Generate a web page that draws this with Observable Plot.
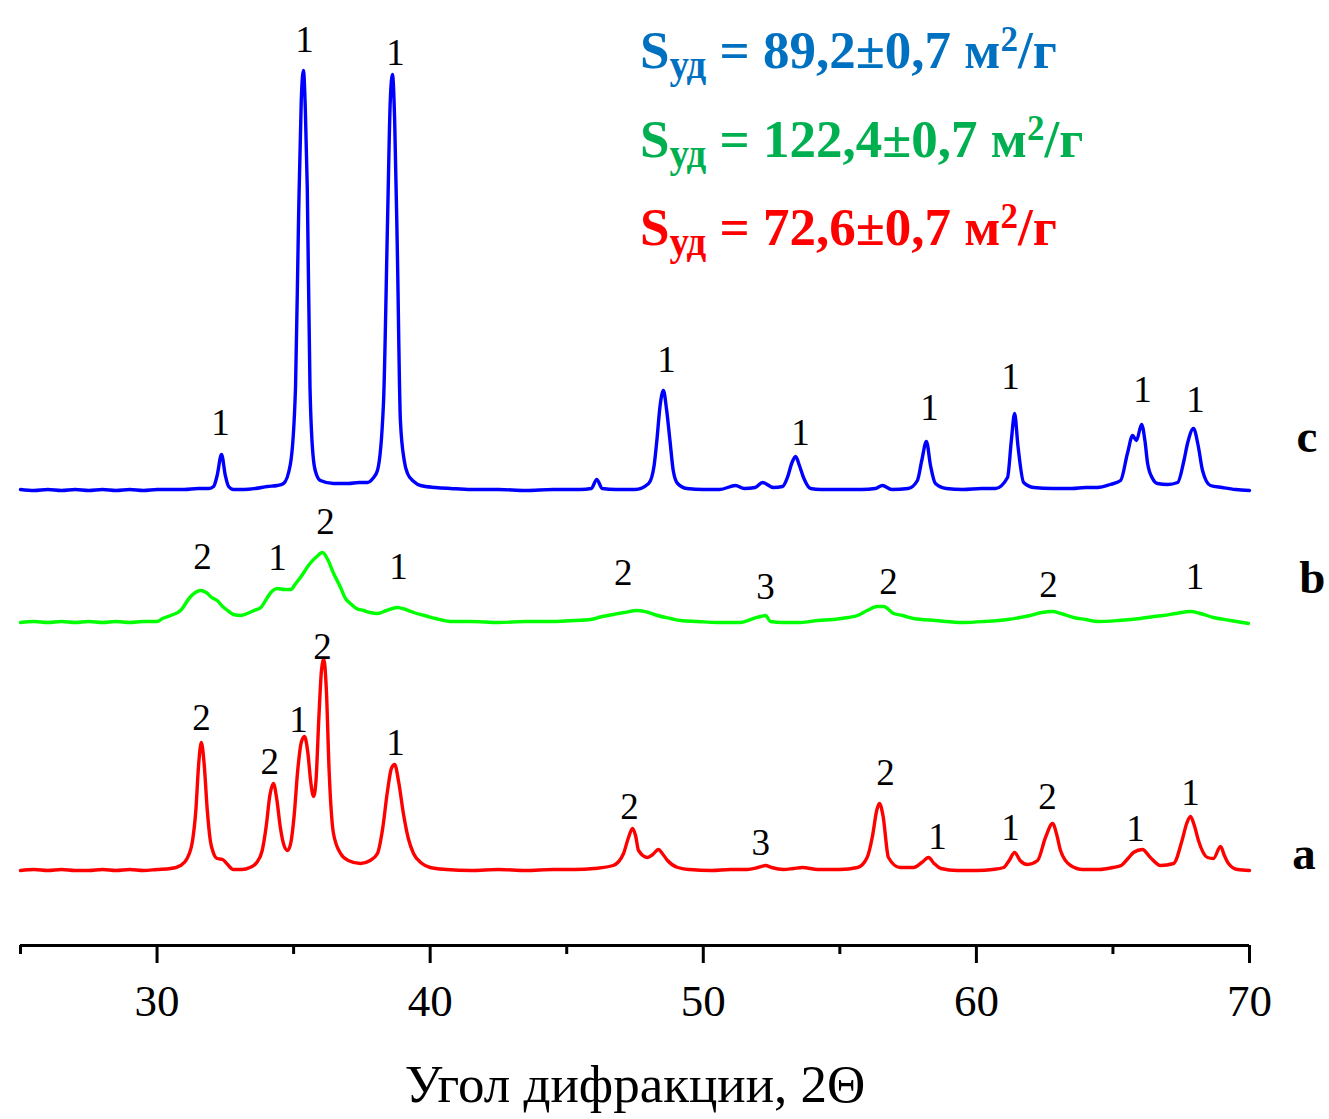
<!DOCTYPE html>
<html>
<head>
<meta charset="utf-8">
<script src="https://cdn.jsdelivr.net/npm/d3@7"></script>
<script src="https://cdn.jsdelivr.net/npm/@observablehq/plot@0.6"></script>
<style>
  body { margin: 0; background: white; }
  #wrap { position: relative; width: 1329px; height: 1119px; }
  .s { position: absolute; left: 640px; font-family: "Liberation Serif", "Times New Roman", serif; font-weight: bold; font-size: 53px; line-height: 53px; white-space: nowrap; }
  .sub { position: relative; top: 10px; font-size: 39px; }
  .sup { position: relative; top: -17px; font-size: 35px; }
</style>
</head>
<body>
<div id="wrap"></div>
<script>
// ---- data (2θ, intensity above each pattern's own baseline, arbitrary units) ----
const seriesC = [[25.0,1],[25.5,0],[26.0,1],[26.5,0],[27.0,1],[27.5,0],[28.0,1],[28.5,0],[29.0,1],[29.5,0],[30.0,1],[30.5,1],[31.0,1],[31.5,2],[31.9,2],[32.07,4],[32.2,15],[32.36,36],[32.5,15],[32.62,4],[32.8,1],[33.2,1],[33.6,2],[34.04,4],[34.4,5],[34.63,7],[34.88,26],[35.07,103],[35.18,270],[35.28,390],[35.36,420],[35.43,380],[35.5,303],[35.6,103],[35.73,30],[35.85,15],[35.98,10],[36.46,7],[37.0,7],[37.4,8],[37.7,8],[37.9,12],[38.07,20],[38.29,87],[38.44,270],[38.54,390],[38.62,416],[38.7,370],[38.8,237],[38.91,70],[39.05,30],[39.17,17],[39.4,9],[39.65,5],[40.2,3],[40.75,2],[41.5,1],[42.5,1],[43.5,0],[44.5,1],[45.5,1],[45.9,2],[46.1,11],[46.3,2],[46.8,1],[47.5,1],[48.0,7],[48.2,25],[48.3,50],[48.42,85],[48.54,100],[48.66,80],[48.78,50],[48.9,20],[49.06,7],[49.4,2],[50.0,1],[50.6,1],[51.18,5],[51.5,2],[51.9,3],[52.17,8],[52.57,3],[52.9,4],[53.08,13],[53.25,28],[53.38,34],[53.52,25],[53.67,13],[53.93,2],[54.3,1],[55.0,1],[55.8,1],[56.3,2],[56.56,5],[56.9,1],[57.5,2],[57.84,10],[58.0,30],[58.17,49],[58.32,25],[58.5,7],[58.9,2],[59.5,1],[60.2,2],[60.7,2],[61.14,13],[61.28,50],[61.4,77],[61.52,45],[61.73,8],[62.1,3],[62.8,2],[63.5,2],[64.0,3],[64.44,3],[64.9,6],[65.28,10],[65.53,37],[65.72,55],[65.86,50],[66.05,66],[66.17,50],[66.27,27],[66.45,12],[66.63,7],[67.0,6],[67.37,8],[67.6,30],[67.73,47],[67.95,62],[68.12,45],[68.28,20],[68.57,5],[69.0,3],[69.5,1],[70.0,0]];

const seriesB = [[25.0,0],[25.5,1],[26.0,0],[26.5,1],[27.0,0],[27.5,1],[28.0,0],[28.5,1],[29.0,0],[29.5,1],[30.0,1],[30.2,4],[30.5,7],[30.86,12],[31.2,25],[31.4,30],[31.59,32],[31.8,30],[32.0,25],[32.2,22],[32.4,16],[32.58,12],[32.8,8],[33.06,7],[33.3,9],[33.55,12],[33.8,15],[34.04,25],[34.2,31],[34.41,34],[34.65,33],[34.9,33],[35.05,38],[35.25,45],[35.6,59],[35.85,66],[36.06,70],[36.25,63],[36.45,50],[36.72,35],[36.9,24],[37.08,19],[37.3,14],[37.56,12],[37.8,10],[38.07,9],[38.4,12],[38.8,15],[39.1,13],[39.4,10],[39.8,7],[40.2,4],[40.74,1],[41.5,1],[42.5,0],[43.5,1],[44.5,1],[45.3,2],[45.87,3],[46.3,6],[46.71,8],[47.1,10],[47.59,12],[48.0,10],[48.32,7],[48.8,4],[49.17,2],[49.8,1],[50.5,0],[51.36,0],[51.84,4],[52.1,6],[52.28,7],[52.46,1],[52.9,0],[53.56,0],[54.2,2],[54.77,3],[55.3,5],[55.65,7],[56.0,12],[56.38,16],[56.6,16],[56.97,9],[57.3,7],[57.7,4],[58.5,2],[59.53,0],[60.3,1],[61.14,3],[61.6,5],[61.98,7],[62.4,10],[62.79,11],[63.1,9],[63.56,5],[64.0,3],[64.44,1],[65.2,2],[66.0,4],[66.5,6],[66.85,7],[67.3,9],[67.84,11],[68.2,9],[68.68,5],[69.3,2],[69.96,-1]];

const seriesA = [[25.0,0],[25.5,1],[26.0,0],[26.5,1],[27.0,0],[27.5,0],[28.0,1],[28.5,0],[29.0,1],[29.5,0],[30.0,1],[30.5,2],[30.86,5],[31.1,12],[31.3,30],[31.42,60],[31.52,105],[31.62,128],[31.72,108],[31.84,60],[31.95,30],[32.07,17],[32.2,12],[32.4,11],[32.55,7],[32.8,1],[33.1,1],[33.4,3],[33.65,8],[33.85,20],[34.0,45],[34.13,75],[34.26,87],[34.38,72],[34.52,42],[34.65,25],[34.78,20],[34.9,28],[35.02,55],[35.15,100],[35.28,128],[35.4,134],[35.52,118],[35.63,88],[35.73,74],[35.82,90],[35.92,150],[36.02,200],[36.1,212],[36.2,180],[36.3,100],[36.46,37],[36.72,17],[37.0,10],[37.45,7],[37.8,10],[38.07,17],[38.25,40],[38.44,80],[38.58,102],[38.7,106],[38.85,88],[39.02,57],[39.2,32],[39.39,17],[39.7,7],[40.0,3],[40.6,1],[41.5,0],[42.5,1],[43.5,0],[44.5,1],[45.3,1],[46.0,2],[46.7,5],[47.08,17],[47.25,32],[47.41,42],[47.52,35],[47.63,20],[47.96,13],[48.15,16],[48.36,21],[48.5,17],[48.69,10],[49.06,3],[49.5,1],[50.3,0],[51.0,1],[51.6,1],[52.0,3],[52.28,5],[52.5,3],[52.94,1],[53.3,2],[53.63,3],[54.2,1],[55.0,1],[55.65,3],[56.0,13],[56.2,35],[56.35,60],[56.45,67],[56.58,55],[56.78,13],[57.2,3],[57.7,3],[58.0,8],[58.25,13],[58.45,7],[58.7,2],[59.3,0],[60.0,0],[60.6,1],[61.0,3],[61.2,10],[61.4,18],[61.6,10],[61.87,6],[62.24,10],[62.53,33],[62.79,47],[62.95,35],[63.08,20],[63.45,5],[63.9,1],[64.5,1],[65.0,3],[65.3,5],[65.55,12],[65.75,18],[66.08,21],[66.37,13],[66.74,5],[67.22,7],[67.53,30],[67.7,47],[67.84,54],[67.98,45],[68.13,30],[68.46,13],[68.68,12],[68.94,24],[69.08,15],[69.23,7],[69.56,1],[70.0,0]];

// phase labels: [2θ, phase number, height above the pattern's baseline]
const labelsC = [[32.32,"1",67],[35.4,"1",450],[38.73,"1",437],[48.65,"1",130],[53.56,"1",57],[58.28,"1",82],[61.25,"1",113],[66.08,"1",100],[68.02,"1",90]];
const labelsB = [[31.66,"2",65],[34.41,"1",64],[36.17,"2",100],[38.84,"1",55],[47.07,"2",49],[52.28,"3",35],[56.78,"2",40],[62.64,"2",37],[68.0,"1",45]];
const labelsA = [[31.63,"2",152],[34.13,"2",108],[35.18,"1",150],[36.06,"2",223],[38.73,"1",127],[47.3,"2",63],[52.1,"3",27],[56.67,"2",97],[58.58,"1",33],[61.25,"1",42],[62.6,"2",73],[65.83,"1",41],[67.84,"1",77]];

const seriesNames = ["a", "b", "c"];
const seriesOffsets = [0, 248, 380];
const seriesColors = ["#ff0000", "#00ff00", "#0000ff"];
const xTicks = [30, 40, 50, 60, 70];
const xMinorTicks = [25, 35, 45, 55, 65];
const xLabel = "Угол дифракции, 2Θ";
const areaValues = ["89,2±0,7", "122,4±0,7", "72,6±0,7"];
const areaColors = ["#0070c0", "#00b050", "#ff0000"];

// ---- build ----
const allSeries = [seriesA, seriesB, seriesC];
const allLabels = [labelsA, labelsB, labelsC];
const lineData = allSeries.flatMap((s, i) => s.map(([x, v]) => ({x, y: v + seriesOffsets[i], s: seriesNames[i]})));
const labelData = allLabels.flatMap((s, i) => s.map(([x, t, v]) => ({x, y: v + seriesOffsets[i], t})));
const letterLift = [17, 45, 54];
const letterX = [72.0, 72.3, 72.1];
const letterData = seriesNames.map((n, i) => ({x: letterX[i], y: seriesOffsets[i] + letterLift[i], t: n}));

const serif = "'Liberation Serif','Times New Roman',serif";
const chart = Plot.plot({
  width: 1329, height: 1119,
  marginLeft: 20, marginRight: 80, marginTop: 0, marginBottom: 174,
  x: {domain: [25, 70]},
  y: {domain: [-75, 870], axis: null},
  color: {domain: seriesNames, range: seriesColors},
  style: {fontFamily: serif, background: "white", overflow: "visible", color: "black"},
  marks: [
    Plot.line(lineData, {x: "x", y: "y", z: "s", stroke: "s", strokeWidth: 3.4, curve: "monotone-x"}),
    Plot.text(labelData, {x: "x", y: "y", text: "t", fontSize: 37, fontFamily: serif, lineAnchor: "middle", fill: "black"}),
    Plot.text(letterData, {x: "x", y: "y", text: "t", fontSize: 47, fontFamily: serif, fontWeight: "bold", lineAnchor: "middle", fill: "black"}),
    Plot.ruleY([-75], {strokeWidth: 3}),
    Plot.axisX({ticks: xTicks, tickSize: 18, tickPadding: 21, fontSize: 45, fontFamily: serif, strokeWidth: 3, label: null, tickFormat: d => String(d)}),
    Plot.axisX({ticks: xMinorTicks, tickSize: 9, strokeWidth: 3, label: null, tickFormat: () => ""}),
    Plot.text([xLabel], {frameAnchor: "bottom", dy: 140, fontSize: 53, fontFamily: serif, lineAnchor: "middle", fill: "black"})
  ]
});
const wrap = document.getElementById("wrap");
wrap.appendChild(chart);

const tops = [24, 113, 201];
areaValues.forEach((v, i) => {
  const d = document.createElement("div");
  d.className = "s";
  d.style.top = tops[i] + "px";
  d.style.color = areaColors[i];
  d.innerHTML = `S<span class="sub">уд</span> = ${v} м<span class="sup">2</span>/г`;
  wrap.appendChild(d);
});
</script>
</body>
</html>
